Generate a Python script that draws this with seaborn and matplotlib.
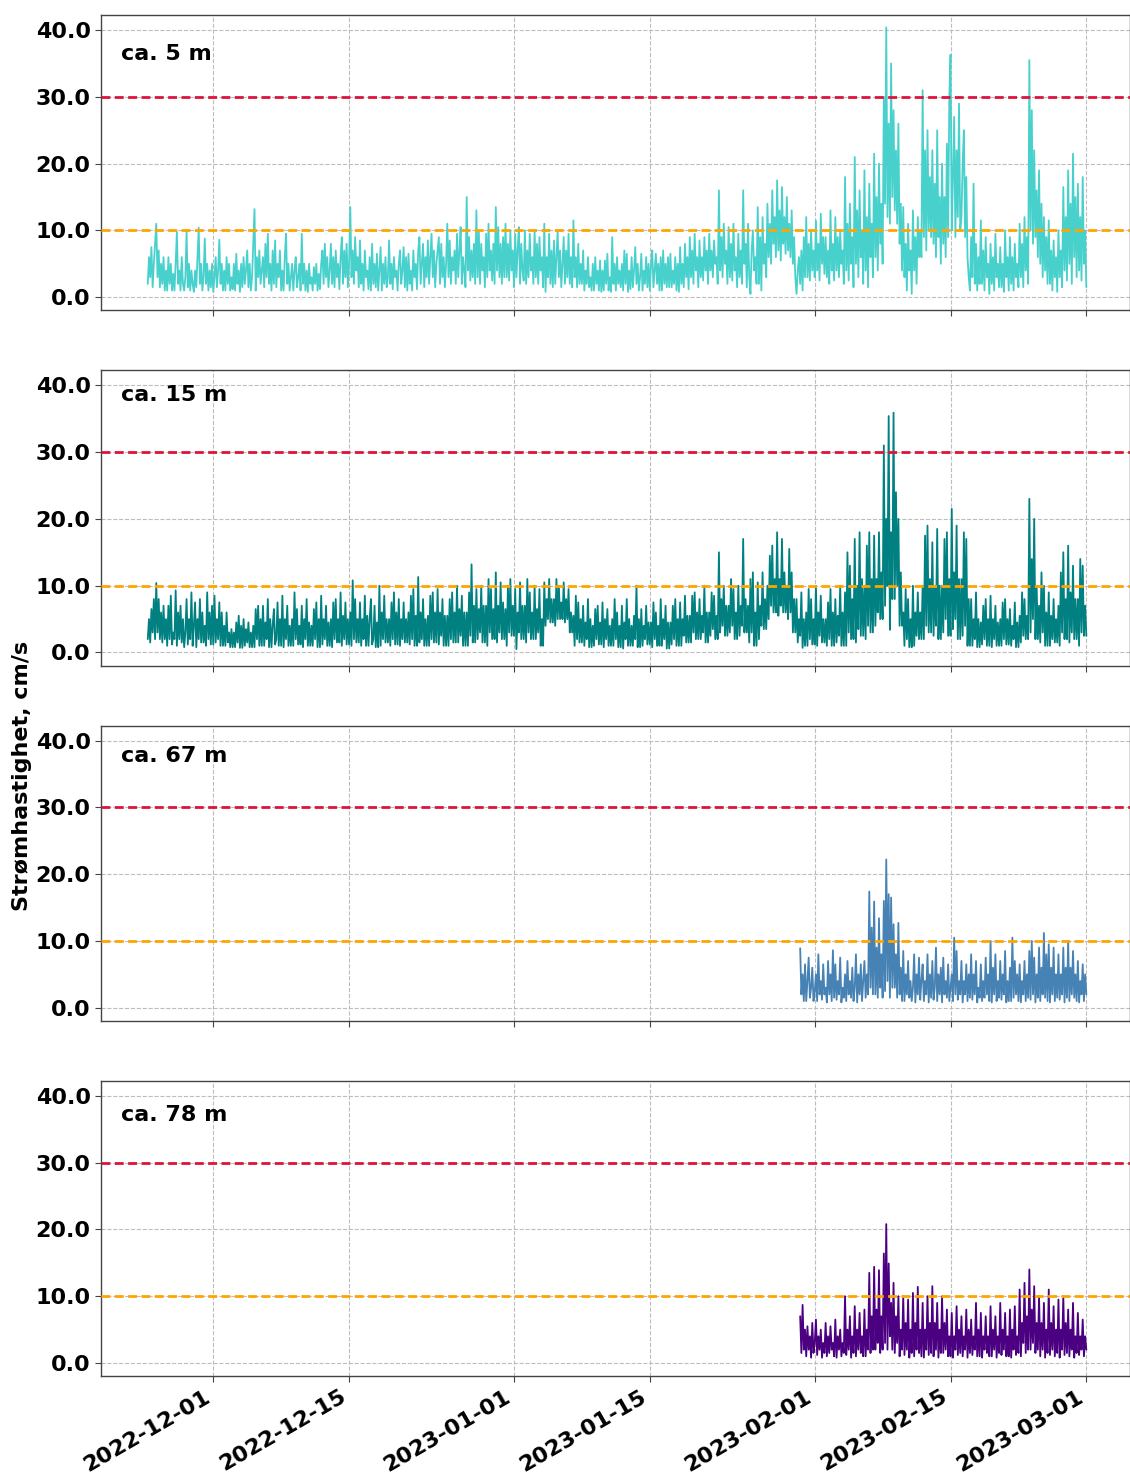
import matplotlib
matplotlib.use("Agg")
import matplotlib.pyplot as plt
import matplotlib.dates as mdates
from matplotlib.ticker import FormatStrFormatter
import pandas as pd
import seaborn as sns

# Current speed (cm/s), 3-hourly samples
depth_labels = ["ca. 5 m", "ca. 15 m", "ca. 67 m", "ca. 78 m"]
series_start = ["2022-11-24 06:00", "2022-11-24 06:00", "2023-01-30 12:00", "2023-01-30 12:00"]

speed_5m = [
    2, 6, 3, 7.5, 1.5, 5, 8,
    11, 3, 7, 1.5, 5, 2, 6, 1,        4, 1, 6, 2, 5, 1, 3.5, 1,
    5, 9.8, 2, 4, 1, 6, 2, 1,         3, 9.8, 1.5, 5, 1, 4, 2, 0.8,
    4, 1.5, 6, 10.4, 2, 5, 1, 3,      8.8, 2, 5, 1, 4, 1.5, 5, 0.8,
    3, 6, 1.5, 4, 8.6, 2, 5, 1,       4, 1, 6, 2, 5, 1, 3, 1.2,
    5, 1, 6.5, 2, 4, 0.8, 5, 1.5,     6, 2, 4, 7, 1.5, 5, 1, 3,
    8, 13.2, 1, 6, 3, 7, 2, 4,        6, 1.5, 8, 3, 9.5, 2, 5, 1,
    7, 2, 8.5, 1.5, 5, 3, 7, 1,       4, 1, 6, 9.5, 2, 5, 1, 3,
    5, 1, 4, 6, 1.5, 3, 5, 1,         9.5, 2, 5, 1, 4, 0.8, 5, 2,
    3, 1, 4.5, 2, 5, 1, 3.5, 1.2,     5, 7, 2, 8, 3, 6, 1.5, 4,
    8, 2, 6, 1.5, 7, 3, 5, 1.2,       6, 9, 2, 7, 3, 8, 1.5, 5,
    13.5, 3, 7, 2, 9, 4, 6, 1.5,      8.5, 2, 5, 1, 7, 3, 4, 1.2,
    6, 1, 8, 2, 5, 1.5, 6.5, 1,       4, 7.5, 1, 5, 2, 6, 1.5, 3,
    8.5, 2, 5, 1.2, 6, 3, 4, 1,       5, 7, 2, 4, 7.5, 1.5, 6, 1,
    6.5, 2, 4, 1, 7, 3, 5, 1.2,       7, 9, 2, 5, 8, 1.5, 6, 3,
    8.5, 2, 6, 9.5, 3, 7, 1.5, 5,     7, 9, 2, 8, 3, 6, 1.5, 5,
    11, 3, 8.5, 2, 6, 4, 7, 2,        9.5, 3, 7, 10.5, 2, 6, 4, 1.5,
    15, 4, 9, 2.5, 7, 3, 8, 2,        13, 3, 10, 2, 8, 4, 6, 1.5,
    9.5, 3, 11, 4, 7, 2.5, 8, 2,      13.5, 4, 10.5, 3, 8, 2, 9, 3,
    11, 3, 8, 2.5, 10, 4, 7, 1.5,     9.5, 3, 7, 10.5, 2, 8, 4, 2.5,
    10, 2, 7, 3, 9.5, 4, 6, 2,        10, 3, 8, 2, 9, 4, 6, 1.5,
    11, 0.8, 6, 3, 9.5, 2, 7, 1.5,    8.5, 2, 6, 10, 3, 7, 1.5, 5,
    9, 2, 7, 3, 9.5, 2, 6, 1.5,       11.5, 3, 6, 1.5, 8, 2, 5, 2,
    7, 1, 4, 2, 6, 1.5, 3, 1,         5, 1, 6, 2, 4, 1, 5.5, 0.8,
    4, 1, 5.5, 2, 6.5, 1, 3, 0.8,     9, 2, 5, 1, 6, 2, 4, 1.5,
    5, 1, 7, 2, 6.5, 0.8, 4, 1.2,     6, 1.5, 4, 7.5, 2, 5, 1, 3,
    6.5, 1, 4, 2, 6, 1.5, 5, 1,       5, 7, 1.5, 4, 6.5, 2, 5, 1,
    6, 1, 7, 2, 5, 1.5, 6, 1.5,       6.5, 1.5, 4, 2, 6, 1, 5, 0.8,
    7.5, 2, 5, 1.5, 8, 3, 6, 1.2,     9, 3, 7, 2, 9.5, 4, 6, 1.5,
    8.5, 3, 6, 2.5, 9, 4, 7, 2,       9.5, 4, 7, 3, 8.5, 5, 6, 2,
    16, 4, 9, 3, 11, 5, 7, 2,         10.5, 3, 8, 2.5, 11, 4, 6, 1.5,
    9.5, 3, 7, 2, 16, 5, 8, 1.5,      11, 3, 0.5, 7, 10, 4, 6, 2,
    13.5, 2, 9, 1, 12, 5, 8, 3,       14, 6, 11, 5, 16, 8, 12, 6,
    17.5, 7, 13, 5.5, 16.5, 8, 12, 6.5, 15, 7, 11, 6, 13, 5, 9, 3,
    0.5, 4, 6, 2, 7, 1, 9, 3,         12, 3, 8, 2.5, 10, 4, 7, 3,
    11.5, 4, 8, 2.5, 12.5, 5, 9, 3.5, 9, 3, 7, 2, 13, 4, 8, 2.5,
    12, 4, 9, 3, 10, 5, 7, 2,         18, 4, 11, 2.5, 14, 5, 9, 1.5,
    21, 5, 13, 3, 16, 6, 10, 2,       19, 4, 12, 1.5, 17, 6, 11, 3,
    21.5, 6, 15, 4, 20, 8, 14, 5,     30, 14, 40.4, 12, 26, 11, 35, 15,
    28, 13, 22, 11, 26, 8, 14, 4,     13.5, 3, 8, 1, 11, 4, 7, 0.5,
    13, 4, 9, 2, 12, 6, 10, 6,        31, 9, 22, 7, 25, 10, 18, 9,
    22, 8, 17, 6, 25, 9, 15, 5,       20, 8, 15, 6, 23, 9, 30, 36.3,
    10, 18, 27, 9, 22, 12, 29, 10,    12, 20, 25, 9, 18, 6, 3, 1,
    9, 3, 17, 2, 8, 1, 6, 2,          11.5, 2, 7, 1, 9, 3, 5, 0.5,
    8, 2, 6, 1, 9.5, 3, 5, 1.5,       7.5, 1.5, 5, 0.8, 10, 3, 6, 1,
    9, 2, 6, 1, 8, 3, 5, 1.5,         11, 3, 8, 1.5, 12, 4, 9, 2,
    35.5, 10, 28, 8, 22, 9, 16, 6,    19, 5, 14, 3, 12, 4, 9, 2,
    11.5, 2, 7, 1, 8.5, 3, 6, 0.8,    10, 3, 7, 1.5, 16.5, 4, 12, 2.5,
    19, 5, 14, 2, 21.5, 6, 15, 3,     17, 4, 12, 2.5, 18, 5, 10, 1.5,
]

speed_15m = [
    2, 5, 1.5, 6.5, 3, 8, 2,
    10.4, 3, 8, 2, 6, 1.5, 7, 2,      5, 1, 7, 2, 8.5, 1.2, 3, 2,
    9.3, 1, 6, 2, 7, 1.5, 5, 0.8,     3, 8, 1.2, 5, 2, 9, 1, 4,
    7.5, 0.8, 5, 2, 8, 1.5, 6, 1.5,   4, 1, 9, 2, 6, 1.2, 7, 1.2,
    8.5, 1.5, 5, 2, 7.5, 1, 6, 1,     4, 1, 6, 1.5, 3, 0.8, 3.5, 0.8,
    3, 0.8, 4.5, 1.5, 5.5, 0.7, 4, 0.7, 5, 1, 3.5, 1.5, 4.5, 0.8, 3, 0.8,
    4, 0.8, 6.5, 2, 7, 1, 5, 1,       7, 1, 4.5, 2, 8, 0.8, 5, 0.8,
    4, 6.5, 1.2, 2, 7.5, 1, 5, 1,     8.5, 0.8, 5, 2, 7, 1, 4, 1,
    5, 1, 9, 2, 6.5, 1.2, 4, 1.2,     7, 0.8, 5, 2, 8, 1, 4.5, 1,
    4, 1, 6.5, 2, 7.5, 0.8, 5, 0.8,   8.5, 1.2, 5, 2, 7, 1, 4.5, 1,
    5, 0.8, 7.5, 2, 8, 1.5, 5, 1.5,   9, 1, 5.5, 2, 7.5, 1.2, 5, 1.2,
    6, 1, 10.8, 2, 8, 1.5, 5, 1.5,    7.5, 1, 5, 2, 8.5, 1, 5.5, 1,
    5, 8, 1.2, 2, 7, 0.8, 4.5, 0.8,   10, 1, 6, 2, 8.5, 1.5, 5, 1.5,
    5, 1, 7.5, 2, 9, 1.2, 6, 1.2,     8, 1, 5, 2, 7.5, 1.5, 5, 1.5,
    6, 1.2, 8.5, 2, 9.5, 1, 5.5, 1,   11.3, 1.5, 6, 2, 8, 1, 5, 1,
    5.5, 1, 8.5, 2, 9, 1.5, 6, 1.5,   9.5, 1.2, 6, 2.5, 8, 1, 5.5, 1,
    5.5, 1, 8, 2, 9, 1.5, 6, 1.5,     10, 1.5, 6.5, 2.5, 8.5, 1, 6, 1,
    6, 1, 9, 2.5, 13.2, 1.5, 7, 1.5,  9.5, 2, 6.5, 3, 10, 1.5, 7, 1.5,
    7, 1, 11, 3, 9.5, 2, 6.5, 2,      12, 1.5, 7, 3, 10.5, 2, 7.5, 2,
    6.5, 1, 10, 3, 11, 2.5, 7, 2.5,   9.5, 0.5, 6, 3, 10.5, 2, 7, 2,
    7, 1.5, 11, 3, 9, 2, 6, 2,        10, 2, 6.5, 3, 9.5, 1, 5, 1,
    10.5, 4, 8, 5, 11, 4.5, 8, 4.5,   8, 4, 11, 5, 10, 5, 7.5, 5,
    10.5, 4.5, 8, 5, 9.5, 3, 6, 3,    5.5, 1, 8.5, 2, 7.5, 1.5, 5, 1.5,
    7, 1, 4.5, 2, 8, 0.8, 5, 0.8,     4, 1, 6.5, 2, 7, 1.2, 4.5, 1.2,
    7.5, 0.8, 5, 2, 6.5, 1, 4, 1,     5, 1, 8, 2, 6, 0.8, 4, 0.8,
    7, 0.6, 4.5, 2, 8, 1, 5, 1,       4, 1, 5.5, 2, 10, 0.8, 5, 0.8,
    6.5, 1, 4, 2, 7, 1.2, 4.5, 1.2,   4.5, 0.8, 7.5, 2, 6, 1, 4, 1,
    8, 1, 5, 2, 7, 0.6, 4.5, 0.6,     4.5, 1.2, 7, 2, 8, 1, 5, 1,
    7.5, 1, 5, 2.5, 8.5, 1.5, 5.5, 1.5, 5.5, 1.5, 8.5, 3, 9, 2, 6, 2,
    8, 2, 5.5, 3, 10, 1.5, 6, 1.5,    6, 2.5, 9, 3.5, 8.5, 2, 5.5, 2,
    15, 3, 8, 4, 10, 2.5, 7, 2.5,     7, 3, 11, 4, 9.5, 2, 6, 2,
    10, 2.5, 7, 4, 17, 3, 8, 3,       7, 1.5, 11, 3, 12, 1, 6, 1,
    10.5, 2, 7, 4, 12, 3.5, 8, 3.5,   10, 5, 14.5, 7, 16, 6, 11, 6,
    18, 5.5, 11, 7, 17, 6, 12, 6,     10, 5, 15.5, 6, 12, 3, 8, 3,
    8, 1.5, 5, 2.5, 9, 0.7, 5, 1,     6, 1, 9.5, 2, 8, 1.2, 5, 1.2,
    10, 1, 6, 2.5, 8.5, 1.5, 5, 1.5,  5, 1, 7.5, 2, 9.5, 1, 6, 1,
    8, 1.5, 5.5, 2.5, 10, 1, 6, 1,    9, 1, 15, 3, 13, 2, 8, 2,
    17, 1.5, 10, 3.5, 18, 2.5, 11, 2.5, 10, 2, 16, 4, 18, 3, 11, 3,
    17.5, 4, 11, 6, 18, 5, 12, 5,     31, 7, 20, 10, 35.4, 3.4, 18, 8,
    35.9, 8, 24, 10, 20, 4, 12, 4,    6, 1, 9.5, 2, 8, 0.8, 5, 0.8,
    10, 1, 6, 2.5, 9, 2, 6, 2,        10, 2, 17.5, 4, 19, 3, 11, 3,
    16.5, 2.5, 10, 4, 18.5, 2, 10, 2, 10, 3, 17, 5, 18, 2.5, 11, 2.5,
    21.5, 3.5, 12, 5, 19, 2, 11, 2,   11, 2.5, 18, 4, 17, 1, 8, 1,
    8, 1, 5, 2, 9, 0.8, 5, 0.8,       4.5, 1.2, 7, 2, 8, 1, 5, 1,
    8.5, 0.8, 5, 2, 7, 1, 4.5, 1,     5, 1, 7.5, 2, 8, 1.2, 5, 1.2,
    6.5, 1, 4, 2, 7.5, 0.8, 4.5, 0.8, 5.5, 1.5, 9, 2.5, 8, 2, 5.5, 2,
    23, 3, 14, 5, 20, 2, 10, 2,       7, 1.5, 12, 3, 10, 1, 6, 1,
    9, 1, 5.5, 2, 8, 1.5, 5, 1.5,     7, 1, 12, 3, 15, 2, 8, 2,
    16, 1.5, 9, 3, 13, 2, 8, 2,       8, 1, 14, 3, 13, 2.5, 7, 2.5,
]

speed_67m = [
    8.9, 2, 5, 1, 6.5,
    1, 4, 7.5, 1.5, 3, 6, 1, 2.5,     5, 1, 8, 2, 4, 1.2, 6.5, 2,
    3, 0.8, 7, 2, 5, 1, 8.6, 1.5,     6.5, 1.2, 4, 2, 7.5, 0.8, 3, 1.5,
    5, 1, 7, 2, 4, 1.5, 6, 1,         3, 8, 0.8, 5, 2, 6.5, 1, 4,
    7, 1.5, 5, 2, 17.4, 3, 12, 2,     15.9, 2, 9, 1.5, 13.4, 3, 8, 1.5,
    16, 2.5, 22.2, 4, 17, 1.5, 16.5, 3, 12.5, 3, 8, 1.5, 12.7, 2, 6, 1,
    8.5, 1, 5, 2, 7, 1.5, 4, 1,       3, 8, 0.8, 5, 2, 7.5, 1.2, 4,
    6.5, 1, 4, 2, 8, 0.8, 5, 1.5,     7, 1.2, 3, 9, 1, 5, 2, 6,
    0.8, 7.5, 2, 4, 1.5, 6.5, 1, 3,   5, 1, 10.5, 2, 8.5, 1.2, 4, 2,
    7, 0.8, 4, 2, 6.5, 1, 5, 1.5,     8, 1.2, 5, 2, 7, 0.8, 3, 1.5,
    6.5, 1, 4, 1.5, 7.5, 2, 5, 1,     10, 0.8, 6, 2, 8, 1, 4, 1.5,
    7, 1.2, 5, 2, 8.5, 0.8, 4, 1,     6, 1, 10.5, 1.5, 7, 2, 5, 1,
    6.5, 0.8, 4, 2, 7, 1, 5, 1.5,     8.5, 1.2, 10, 2, 7.5, 0.8, 5, 1.5,
    9, 1, 6, 2, 11.2, 1.5, 8, 1,      9.5, 0.8, 6, 2, 9, 1, 5, 1.5,
    8, 1.2, 5, 2, 9, 0.8, 6, 1.5,     10, 1, 6, 2, 8.5, 1.5, 5, 1,
    7, 0.8, 4, 2, 6.5, 1, 5, 2,
]

speed_78m = [
    7, 1.5, 8.7, 2, 5,
    1, 5.5, 2, 4, 0.8, 6, 1.5, 3,     6.5, 1.2, 4, 2, 5, 0.8, 3, 1.5,
    6, 1, 4, 1.5, 5.5, 2, 3, 1,       6.5, 0.8, 4, 2, 5, 1, 3, 1.5,
    10, 1.2, 5, 2, 7, 0.8, 4, 1.5,    8.5, 1, 5, 2, 7.5, 1.5, 4, 1,
    8, 1, 5, 2, 13.5, 1.5, 7, 2,      14.4, 2, 8, 3, 13.9, 1.5, 7, 2,
    16.4, 3, 20.8, 2, 14.9, 4, 9, 2,  12, 1.5, 7, 3, 10, 1, 5, 2,
    10, 1.2, 6, 2, 9.5, 0.8, 5, 1.5,  10.5, 1, 6, 2, 11.4, 1.5, 5, 1,
    9, 0.8, 5, 2, 10, 1.2, 6, 1.5,    11.5, 1, 6, 2, 9, 0.8, 5, 1.5,
    10, 1.5, 6, 2, 8, 1, 4, 1,        7.5, 0.8, 4, 2, 8.5, 1.2, 5, 1.5,
    7, 1, 4, 2, 8, 0.8, 5, 1.5,       6.5, 1.2, 4, 2, 9, 1, 5, 1,
    7.5, 0.8, 4, 2, 7, 1.5, 4, 1,     8.5, 1, 5, 2, 7, 0.8, 4, 1.5,
    9, 1.2, 5, 2, 7.5, 1, 4, 1,       8, 0.8, 5, 2, 8.5, 1.2, 4, 1.5,
    11, 1, 6, 3, 12, 1.5, 7, 2,       14, 2, 8, 3, 11.5, 1.5, 6, 2,
    10, 1, 6, 2, 9, 0.8, 5, 1.5,      11, 1.2, 6, 2, 8.5, 1, 5, 1.5,
    9.5, 0.8, 5, 2, 10, 1.2, 6, 1.5,  8, 1, 5, 2, 9, 0.8, 4, 1.5,
    7.5, 1.2, 4, 2, 6.5, 1, 4, 2,
]

line_colors = ["#48D1CC", "#008080", "#4682B4", "#4B0082"]
label_y = [0.868, 0.915, 0.898, 0.885]
date_ticks = ["2022-12-01", "2022-12-15", "2023-01-01", "2023-01-15",
              "2023-02-01", "2023-02-15", "2023-03-01"]
all_speeds = [speed_5m, speed_15m, speed_67m, speed_78m]

sns.set_style("ticks", {"axes.grid": True, "grid.linestyle": "--", "grid.color": "#bdbdbd"})
plt.rcParams["font.family"] = ["DejaVu Sans"]
plt.rcParams["font.weight"] = "bold"
plt.rcParams["text.color"] = "black"
plt.rcParams["xtick.color"] = "black"
plt.rcParams["ytick.color"] = "black"
plt.rcParams["axes.labelcolor"] = "black"

fig, axes = plt.subplots(4, 1, figsize=(11.3, 14.75), dpi=100, sharex=True, sharey=True)
fig.subplots_adjust(left=0.0894, right=1.0, top=0.9898, bottom=0.0671, hspace=0.2034)

for ax, label, start, vals, color, ty in zip(axes, depth_labels, series_start,
                                              all_speeds, line_colors, label_y):
    df = pd.DataFrame({
        "time": pd.date_range(start, periods=len(vals), freq="3h"),
        "speed": vals,
    })
    sns.lineplot(data=df, x="time", y="speed", ax=ax, color=color,
                 linewidth=1.3, errorbar=None)
    ax.axhline(30, color="#DC143C", lw=2, ls=(0, (3.2, 1.6)), zorder=4)
    ax.axhline(10, color="#FFA500", lw=2, ls=(0, (3.2, 1.6)), zorder=4)
    ax.text(0.019, ty, label, transform=ax.transAxes, fontsize=16,
            fontweight="bold", va="center", ha="left", color="black")
    ax.set_xlabel("")
    ax.set_ylabel("")
    ax.grid(True, ls="--", color="#bdbdbd", lw=0.8)
    ax.set_yticks([0, 10, 20, 30, 40])
    ax.yaxis.set_major_formatter(FormatStrFormatter("%.1f"))
    ax.tick_params(labelsize=16, length=4, width=0.8, color="#444444",
                   labelcolor="black")
    for sp in ax.spines.values():
        sp.set_color("#444444")
        sp.set_linewidth(1.0)

axes[0].set_ylim(-1.95, 42.25)
axes[0].set_xlim(pd.Timestamp("2022-11-19 10:20"), pd.Timestamp("2023-03-05 12:00"))
axes[-1].set_xticks(pd.to_datetime(date_ticks))
axes[-1].xaxis.set_major_formatter(mdates.DateFormatter("%Y-%m-%d"))
for lbl in axes[-1].get_xticklabels():
    lbl.set_rotation(30)
    lbl.set_ha("right")
    lbl.set_fontweight("bold")

fig.text(0.0195, 0.474, "Strømhastighet, cm/s", rotation=90, fontsize=16,
         fontweight="bold", va="center", ha="center", color="black")

fig.savefig("out.png", dpi=100)
